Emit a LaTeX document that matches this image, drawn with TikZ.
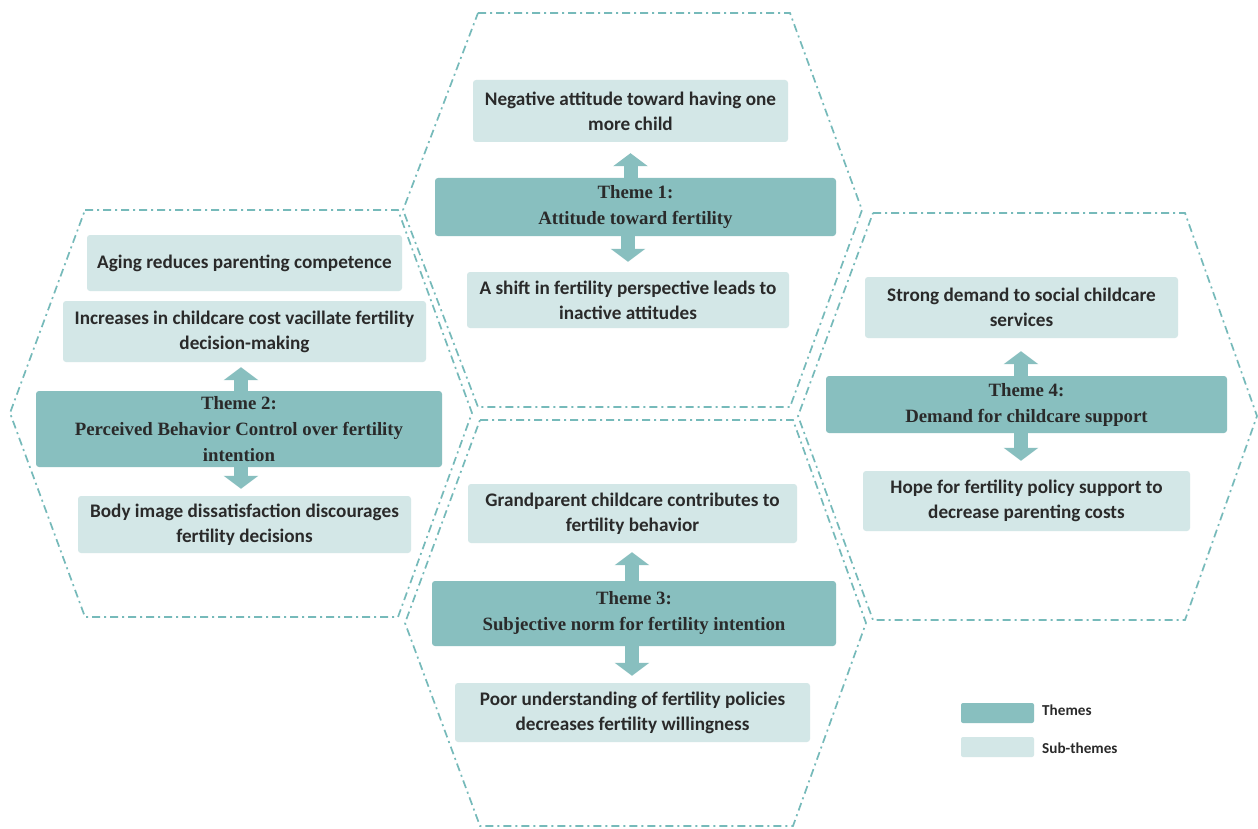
\documentclass[tikz,border=0pt]{standalone}
\usepackage{fontspec}
\setmainfont{Carlito}
\newfontfamily\themefont{Liberation Serif}
\usetikzlibrary{arrows.meta}
\definecolor{themecol}{RGB}{136,191,191}
\definecolor{subcol}{RGB}{211,231,231}
\definecolor{hexcol}{RGB}{118,186,186}
\definecolor{txt}{RGB}{42,42,42}
\begin{document}
\begin{tikzpicture}[x=1pt,y=-1pt,
 hexline/.style={draw=hexcol, line width=1.7pt, dash pattern=on 8pt off 4pt on 2pt off 4pt},
 sub/.style={fill=subcol, rounded corners=3pt, text=txt, font=\fontsize{19.2}{25}\selectfont\bfseries, align=center, inner sep=0pt},
 theme/.style={fill=themecol, rounded corners=3pt, text=txt, font=\themefont\fontsize{18.8}{26}\selectfont\bfseries, align=center, inner sep=0pt},
 swatch/.style={rounded corners=2pt, minimum width=73pt, minimum height=20pt, inner sep=0pt},
 legtext/.style={text=txt, font=\fontsize{15.2}{17}\selectfont\bfseries, anchor=west, inner sep=0pt},
 barrow/.style={draw=themecol, line width=14pt, -{Triangle[width=34pt,length=13pt]}}]
\useasboundingbox[fill=white] (0,0) rectangle (1258,829);

% hexagons
\draw[hexline] (478,13) -- (790,13) -- (862,210) -- (790,407) -- (478,407) -- (403,210) -- cycle;
\draw[hexline] (85,210) -- (398,210) -- (472,413) -- (398,617) -- (85,617) -- (10,413) -- cycle;
\draw[hexline] (873,213) -- (1185,213) -- (1257,416) -- (1185,620) -- (873,620) -- (798,416) -- cycle;
\draw[hexline] (480,420) -- (793,420) -- (866,623) -- (793,826) -- (480,826) -- (405,623) -- cycle;

% Theme 1
\node[sub, minimum width=315pt, minimum height=62pt] (s11) at (630.5,111) {Negative attitude toward having one\\more child};
\node[theme, minimum width=401pt, minimum height=58pt] (t1) at (635.5,207) {Theme 1:\\Attitude toward fertility};
\node[sub, minimum width=322pt, minimum height=56pt] (s12) at (628,300) {A shift in fertility perspective leads to\\inactive attitudes};
\draw[barrow, shorten >=11pt] (t1.north -| s11.south) -- (s11.south);
\draw[barrow, shorten >=10pt] (t1.south -| s12.north) -- (s12.north);

% Theme 2
\node[sub, minimum width=315pt, minimum height=56pt] (s21) at (244.5,263) {Aging reduces parenting competence};
\node[sub, minimum width=363pt, minimum height=61pt] (s22) at (244.5,331.5) {Increases in childcare cost vacillate fertility\\decision-making};
\node[theme, minimum width=406pt, minimum height=76pt] (t2) at (239,429) {Theme 2:\\Perceived Behavior Control over fertility\\intention};
\node[sub, minimum width=333pt, minimum height=57pt] (s23) at (244.5,524.5) {Body image dissatisfaction discourages\\fertility decisions};
\coordinate (a2) at (241,0);
\draw[barrow, shorten >=5pt] (t2.north -| a2) -- (s22.south -| a2);
\draw[barrow, shorten >=7pt] (t2.south -| a2) -- (s23.north -| a2);

% Theme 4
\node[sub, minimum width=313pt, minimum height=61pt] (s41) at (1021.5,307.5) {Strong demand to social childcare\\services};
\node[theme, minimum width=401pt, minimum height=57pt] (t4) at (1026.5,404.5) {Theme 4:\\Demand for childcare support};
\node[sub, minimum width=327pt, minimum height=60pt] (s42) at (1026.5,501) {Hope for fertility policy support to\\decrease parenting costs};
\coordinate (a4) at (1021,0);
\draw[barrow, shorten >=13pt] (t4.north -| a4) -- (s41.south -| a4);
\draw[barrow, shorten >=10pt] (t4.south -| a4) -- (s42.north -| a4);

% Theme 3
\node[sub, minimum width=329pt, minimum height=59pt] (s31) at (632.5,513.5) {Grandparent childcare contributes to\\fertility behavior};
\node[theme, minimum width=404pt, minimum height=65pt] (t3) at (634,613.5) {Theme 3:\\Subjective norm for fertility intention};
\node[sub, minimum width=355pt, minimum height=59pt] (s32) at (632.5,712.5) {Poor understanding of fertility policies\\decreases fertility willingness};
\coordinate (a3) at (632,0);
\draw[barrow, shorten >=9pt] (t3.north -| a3) -- (s31.south -| a3);
\draw[barrow, shorten >=7pt] (t3.south -| a3) -- (s32.north -| a3);

% legend
\node[swatch, fill=themecol] (lt) at (997.5,713) {};
\node[legtext] (ltt) at (1042,710) {Themes};
\node[swatch, fill=subcol] (ls) at (997.5,747) {};
\node[legtext] (lst) at (1042,748) {Sub-themes};
\end{tikzpicture}
\end{document}
